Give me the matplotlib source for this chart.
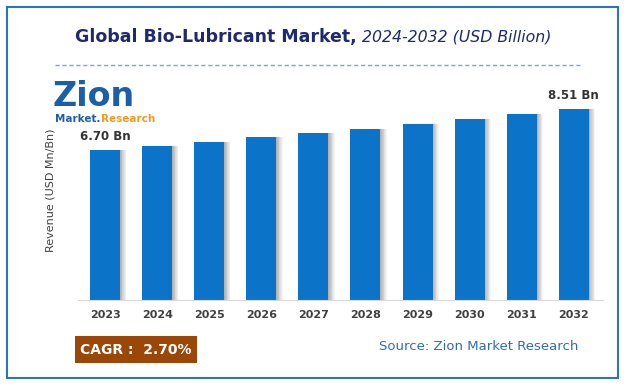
import numpy as np
import matplotlib.pyplot as plt
from matplotlib.patches import Rectangle
from matplotlib.lines import Line2D

years = ["2023", "2024", "2025", "2026", "2027", "2028", "2029", "2030", "2031", "2032"]
revenue = [6.70, 6.88, 7.07, 7.26, 7.45, 7.65, 7.86, 8.07, 8.29, 8.51]
first_label = "6.70 Bn"
last_label = "8.51 Bn"
cagr_text = "CAGR :  2.70%"
source_text = "Source: Zion Market Research"

W, H = 624, 385
fig = plt.figure(figsize=(W / 100, H / 100), dpi=100)
fig.patch.set_facecolor("white")

def fx(px):
    return px / W

def fy(py):
    return 1 - py / H

# outer border
fig.add_artist(Rectangle((fx(7), fy(378)), fx(611), (371) / H, transform=fig.transFigure,
                         fill=False, edgecolor="#2E75B6", linewidth=1.5))

# title
t1 = fig.text(fx(75), fy(37), "Global Bio-Lubricant Market,", fontsize=12.5, fontweight="bold",
              color="#1F2A6E", va="center", ha="left")
fig.canvas.draw()
bb = t1.get_window_extent()
fig.text(bb.x1 / W + fx(5), fy(37), "2024-2032 (USD Billion)", fontsize=11.3, fontstyle="italic",
         color="#1F2A6E", va="center", ha="left")

# dashed separator
fig.add_artist(Line2D([fx(55), fx(580)], [fy(65), fy(65)], transform=fig.transFigure,
                      color="#7FA2DA", linestyle=(0, (3, 2)), linewidth=1))

# axes
ax = fig.add_axes([fx(78), fy(300), fx(603) - fx(78), fy(80) - fy(300)])
x = np.arange(len(years))
bw = 0.576
# soft shadow to the right of each bar
for k in range(8):
    ax.bar(x + bw / 2 + 0.015 * k + 0.0075, revenue, width=0.015, color="#555555",
           alpha=0.45 * (1 - k / 8), linewidth=0, zorder=1)
ax.bar(x, revenue, width=bw, color="#0B73C8", zorder=2)
ax.set_xlim(-0.52, 9.56)
ax.set_ylim(0, (300 - 80) / 22.4)
ax.set_xticks(x)
ax.set_xticklabels(years, fontsize=8, fontweight="bold", color="#404040")
ax.tick_params(axis="x", length=0, pad=7)
ax.set_yticks([])
for s in ["top", "right", "left"]:
    ax.spines[s].set_visible(False)
ax.spines["bottom"].set_color("#D9D9D9")
ax.set_ylabel("Revenue (USD Mn/Bn)", fontsize=8, color="#404040", labelpad=16)

ax.annotate(first_label, (x[0], revenue[0]), xytext=(0, 5), textcoords="offset points",
            ha="center", va="bottom", fontsize=8.5, fontweight="bold", color="#333333")
ax.annotate(last_label, (x[-1], revenue[-1]), xytext=(0, 5), textcoords="offset points",
            ha="center", va="bottom", fontsize=8.5, fontweight="bold", color="#333333")

# logo (text approximation)
fig.text(fx(53), fy(96), "Zion", fontsize=24, fontweight="bold", color="#1B5FA8",
         va="center", ha="left")
tm = fig.text(fx(55), fy(119), "Market.", fontsize=7.5, fontweight="bold", color="#1B5FA8",
              va="center", ha="left")
fig.canvas.draw()
bm = tm.get_window_extent()
fig.text(bm.x1 / W, fy(119), "Research", fontsize=7.5, fontweight="bold", color="#F39A1E",
         va="center", ha="left")

# CAGR box
fig.add_artist(Rectangle((fx(75), fy(363)), fx(122), 27 / H, transform=fig.transFigure,
                         facecolor="#9A4708", edgecolor="none"))
fig.text(fx(80), fy(350), cagr_text, fontsize=10, fontweight="bold", color="white",
         va="center", ha="left")

fig.text(fx(578), fy(347), source_text, fontsize=9.5, color="#2E6DB4", va="center", ha="right")

fig.savefig("out.png", dpi=100)
